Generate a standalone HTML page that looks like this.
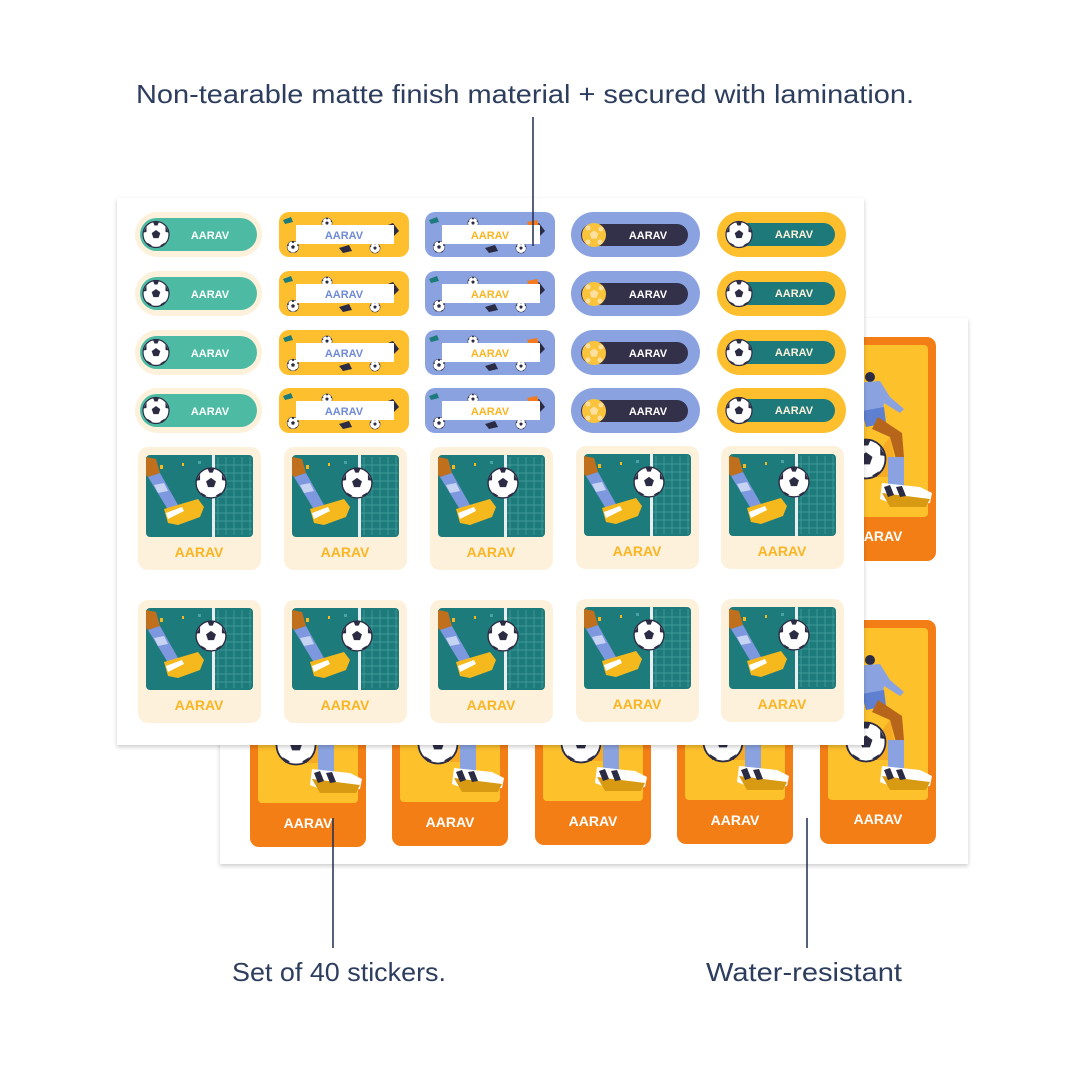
<!DOCTYPE html>
<html><head><meta charset="utf-8"><style>
html,body{margin:0;padding:0;background:#fff;}
svg{display:block;}
.cap{font-family:"Liberation Sans",sans-serif;fill:#2d3d5e;font-size:26px;}
.lb{font-family:"Liberation Sans",sans-serif;font-weight:bold;font-size:11px;text-anchor:middle;}
.sq{font-family:"Liberation Sans",sans-serif;font-weight:bold;font-size:14px;text-anchor:middle;fill:#fbb522;}
.or{font-family:"Liberation Sans",sans-serif;font-weight:bold;font-size:14px;text-anchor:middle;fill:#fff;}
</style></head><body>
<svg width="1080" height="1080" viewBox="0 0 1080 1080" xmlns="http://www.w3.org/2000/svg">
<defs>
<filter id="sh" x="-5%" y="-5%" width="110%" height="110%"><feDropShadow dx="0" dy="2" stdDeviation="2" flood-color="#000" flood-opacity="0.2"/></filter>
<g id="ball">
<circle r="13" fill="#fff" stroke="#2b2b44" stroke-width="1.2"/>
<polygon points="0,-4.5 4.3,-1.4 2.6,3.6 -2.6,3.6 -4.3,-1.4" fill="#2b2b44"/>
<path d="M-3,-12.6 L3,-12.6 L1.5,-9 L-1.5,-9Z M9.5,-8 L12.8,-2 L9.5,-2.5Z M-9.5,-8 L-12.8,-2 L-9.5,-2.5Z M-9,8 L-4,11 L-7,12Z M9,8 L4,11 L7,12Z" fill="#2b2b44"/>
</g>
<g id="gball">
<circle r="12" fill="#f9c43b"/>
<polygon points="0,-4.5 4.3,-1.4 2.6,3.6 -2.6,3.6 -4.3,-1.4" fill="#fde0a0"/>
<circle cx="-6" cy="-7" r="2.5" fill="#fde0a0"/><circle cx="7" cy="-6" r="2.5" fill="#fde0a0"/><circle cx="-6" cy="7" r="2.5" fill="#fde0a0"/><circle cx="6" cy="7" r="2.5" fill="#fde0a0"/>
</g>
<g id="l1">
<rect x="0" y="0" width="127" height="45" rx="22.5" fill="#fdf1dc"/>
<rect x="5" y="6" width="117" height="33" rx="16.5" fill="#4dbba3"/>
<use href="#ball" x="21" y="22.5"/>
</g>
<g id="deco">
<use href="#ball" transform="translate(14,35) scale(0.45)"/>
<use href="#ball" transform="translate(48,11) scale(0.4)"/>
<use href="#ball" transform="translate(96,36) scale(0.4)"/>
<path d="M4,8 l8,-3 l2,5 l-8,2z" fill="#1e7b7b"/>
<path d="M104,15 l10,-4 l6,8 l-8,8z" fill="#2b2b44"/>
<path d="M60,36 l10,-3 l3,6 l-9,2z" fill="#2b2b44"/>
</g>
<g id="l2">
<rect x="0" y="0" width="130" height="45" rx="10" fill="#fdbf2d"/>
<use href="#deco"/>
<rect x="17" y="13" width="98" height="19" fill="#fff"/>
</g>
<g id="l3">
<rect x="0" y="0" width="130" height="45" rx="10" fill="#8aa3e0"/>
<use href="#deco"/>
<path d="M102,10 l10,-2 l2,6 l-9,2z" fill="#f47a1f"/>
<rect x="17" y="13" width="98" height="19" fill="#fff"/>
</g>
<g id="l4">
<rect x="0" y="0" width="129" height="45" rx="22.5" fill="#8aa3e0"/>
<rect x="10" y="12" width="107" height="22" rx="11" fill="#33304a"/>
<use href="#gball" x="23" y="23"/>
</g>
<g id="l5">
<rect x="0" y="0" width="129" height="45" rx="22.5" fill="#fdbf2d"/>
<rect x="12" y="11" width="106" height="23" rx="11.5" fill="#1e7a7a"/>
<use href="#ball" x="22" y="22.5"/>
</g>
<g id="sqc">
<rect x="0" y="0" width="123" height="123" rx="10" fill="#fdf1dc"/>
<rect x="8" y="8" width="107" height="82" rx="4" fill="#1e7b7b"/>
<g stroke="#4aa3a0" stroke-width="0.7">
<path d="M80,10V88M88,10V88M96,10V88M104,10V88M112,10V88M76,18H114M76,26H114M76,34H114M76,42H114M76,50H114M76,58H114M76,66H114M76,74H114M76,82H114"/>
</g>
<rect x="74" y="8" width="3" height="82" fill="#e8eef0"/>
<path d="M8,10 L18,12 L22,26 L10,30 L8,28Z" fill="#c0701d"/>
<path d="M10,30 L22,26 L40,58 L32,66Z" fill="#7d98de"/>
<path d="M16,38 L26,36 L30,44 L20,46Z" fill="#c6d3f3"/>
<path d="M26,62 L60,52 L66,60 L62,70 L40,78 L30,76Z" fill="#f5b91d"/>
<path d="M28,66 L44,60 L46,64 L30,72Z" fill="#fff"/>
<use href="#ball" transform="translate(73,36) scale(1.15)"/>
<rect x="22" y="18" width="3" height="4" fill="#f5b91d"/><rect x="44" y="16" width="2" height="3" fill="#f5b91d"/><rect x="60" y="14" width="3" height="3" fill="#4aa3a0"/>
</g>
<g id="orc">
<rect x="0" y="0" width="116" height="224" rx="9" fill="#f47e16"/>
<rect x="8" y="8" width="100" height="172" rx="4" fill="#fdc12c"/>
<path d="M40,140 L70,100 L78,140Z" fill="#f5a524" opacity="0.8"/>
<circle cx="50" cy="40" r="5" fill="#2b2b44"/>
<path d="M34,46 L60,44 L70,60 L84,72 L80,76 L64,66 L62,80 L44,84 L38,64Z" fill="#8aa3e0"/>
<path d="M42,74 L64,70 L66,86 L46,90Z" fill="#5f7fd0"/>
<path d="M58,80 L82,96 L84,120 L76,122 L70,100 L52,92Z" fill="#b8651c"/>
<rect x="68" y="120" width="16" height="30" fill="#8aa3e0"/>
<use href="#ball" transform="translate(46,122) scale(1.5)"/>
<path d="M62,146 L100,150 L112,156 L110,166 L80,170 L60,162Z" fill="#fff"/>
<path d="M62,156 L110,162 L106,170 L70,170Z" fill="#d99a13"/>
<path d="M64,150 l6,-2 l4,10 l-6,2z M76,150 l6,-1 l4,10 l-6,1z" fill="#2b2b44"/>
</g>
</defs>

<rect x="220" y="318" width="748" height="546" fill="#fff" filter="url(#sh)"/>
<use href="#orc" x="820" y="337"/>
<use href="#orc" x="820" y="620"/>
<use href="#orc" x="250" y="623"/>
<use href="#orc" x="392" y="622"/>
<use href="#orc" x="535" y="621"/>
<use href="#orc" x="677" y="620"/>
<text class="or" x="308" y="828">AARAV</text>
<text class="or" x="450" y="827">AARAV</text>
<text class="or" x="593" y="826">AARAV</text>
<text class="or" x="735" y="825">AARAV</text>
<text class="or" x="878" y="824">AARAV</text>
<text class="or" x="878" y="541">AARAV</text>

<rect x="117" y="198" width="747" height="547" fill="#fff" filter="url(#sh)"/>

<g>
<use href="#l1" x="135" y="212"/><use href="#l1" x="135" y="271"/><use href="#l1" x="135" y="330"/><use href="#l1" x="135" y="388"/>
<use href="#l2" x="279" y="212"/><use href="#l2" x="279" y="271"/><use href="#l2" x="279" y="330"/><use href="#l2" x="279" y="388"/>
<use href="#l3" x="425" y="212"/><use href="#l3" x="425" y="271"/><use href="#l3" x="425" y="330"/><use href="#l3" x="425" y="388"/>
<use href="#l4" x="571" y="212"/><use href="#l4" x="571" y="271"/><use href="#l4" x="571" y="330"/><use href="#l4" x="571" y="388"/>
<use href="#l5" x="717" y="212"/><use href="#l5" x="717" y="271"/><use href="#l5" x="717" y="330"/><use href="#l5" x="717" y="388"/>
</g>
<g class="lb">
<text x="210" y="239" fill="#fff">AARAV</text><text x="210" y="298" fill="#fff">AARAV</text><text x="210" y="357" fill="#fff">AARAV</text><text x="210" y="415" fill="#fff">AARAV</text>
<text x="344" y="239" fill="#6f8ad6">AARAV</text><text x="344" y="298" fill="#6f8ad6">AARAV</text><text x="344" y="357" fill="#6f8ad6">AARAV</text><text x="344" y="415" fill="#6f8ad6">AARAV</text>
<text x="490" y="239" fill="#fbb522">AARAV</text><text x="490" y="298" fill="#fbb522">AARAV</text><text x="490" y="357" fill="#fbb522">AARAV</text><text x="490" y="415" fill="#fbb522">AARAV</text>
<text x="648" y="239" fill="#fff">AARAV</text><text x="648" y="298" fill="#fff">AARAV</text><text x="648" y="357" fill="#fff">AARAV</text><text x="648" y="415" fill="#fff">AARAV</text>
<text x="794" y="238" fill="#fdf1dc">AARAV</text><text x="794" y="297" fill="#fdf1dc">AARAV</text><text x="794" y="356" fill="#fdf1dc">AARAV</text><text x="794" y="414" fill="#fdf1dc">AARAV</text>
</g>

<use href="#sqc" x="138" y="447"/><use href="#sqc" x="284" y="447"/><use href="#sqc" x="430" y="447"/><use href="#sqc" x="576" y="446"/><use href="#sqc" x="721" y="446"/>
<use href="#sqc" x="138" y="600"/><use href="#sqc" x="284" y="600"/><use href="#sqc" x="430" y="600"/><use href="#sqc" x="576" y="599"/><use href="#sqc" x="721" y="599"/>
<text class="sq" x="199" y="557">AARAV</text><text class="sq" x="345" y="557">AARAV</text><text class="sq" x="491" y="557">AARAV</text><text class="sq" x="637" y="556">AARAV</text><text class="sq" x="782" y="556">AARAV</text>
<text class="sq" x="199" y="710">AARAV</text><text class="sq" x="345" y="710">AARAV</text><text class="sq" x="491" y="710">AARAV</text><text class="sq" x="637" y="709">AARAV</text><text class="sq" x="782" y="709">AARAV</text>

<g stroke="#1f2d52" stroke-width="1.5">
<line x1="533" y1="117" x2="533" y2="246"/>
<line x1="333" y1="818" x2="333" y2="948"/>
<line x1="807" y1="818" x2="807" y2="948"/>
</g>
<text class="cap" x="136" y="103" textLength="778" lengthAdjust="spacingAndGlyphs">Non-tearable matte finish material + secured with lamination.</text>
<text class="cap" x="232" y="981" textLength="214" lengthAdjust="spacingAndGlyphs">Set of 40 stickers.</text>
<text class="cap" x="706" y="981" textLength="196" lengthAdjust="spacingAndGlyphs">Water-resistant</text>
</svg>
</body></html>
